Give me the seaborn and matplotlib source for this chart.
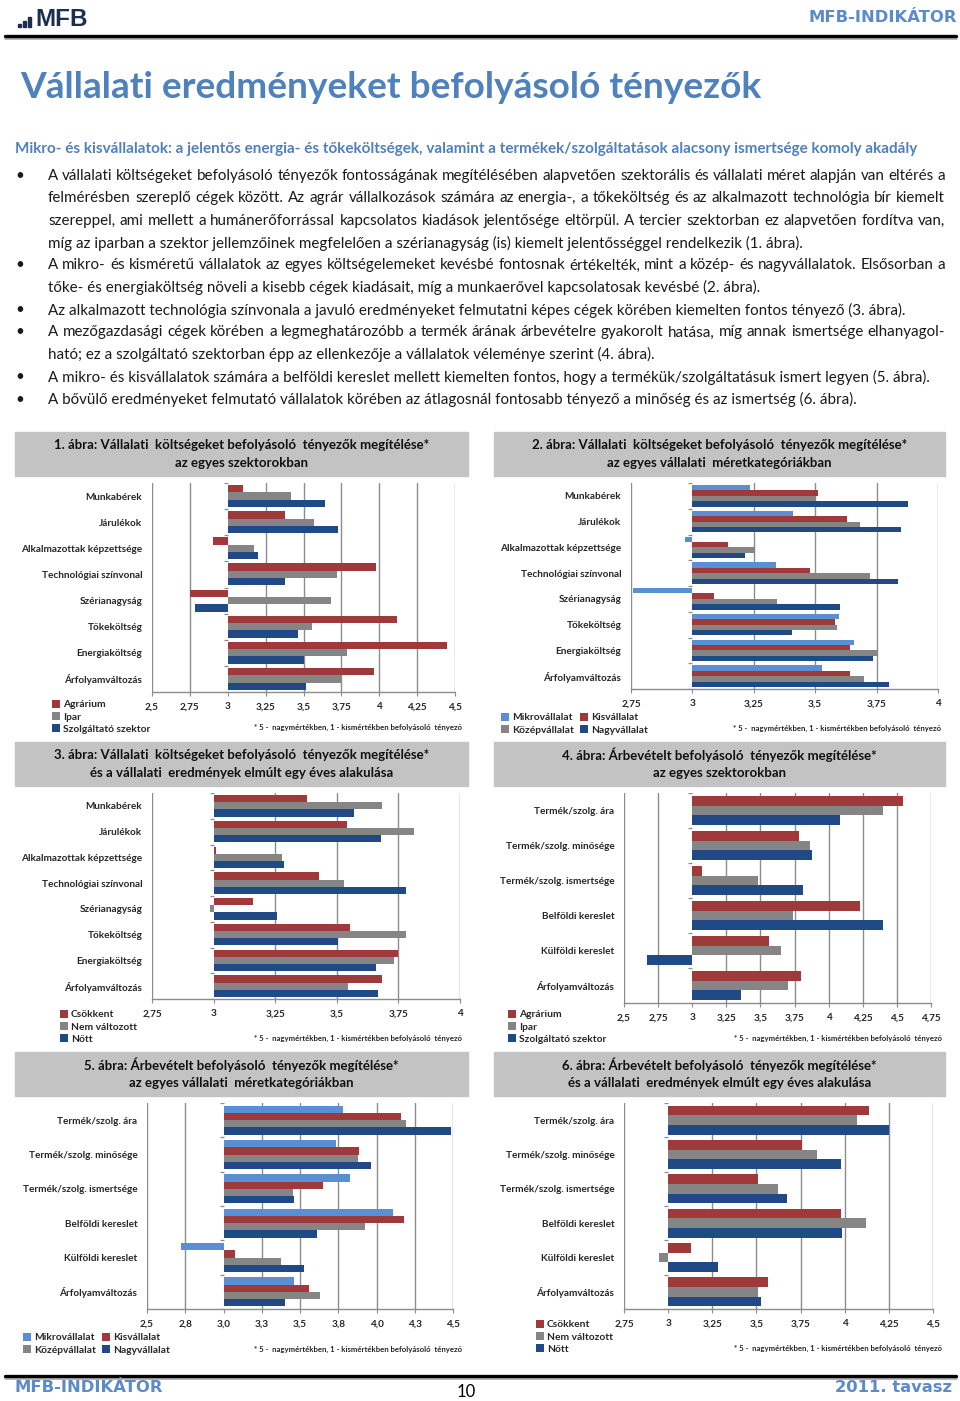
import numpy as np
import pandas as pd
import matplotlib
matplotlib.use("Agg")
import matplotlib.pyplot as plt
import seaborn as sns
from matplotlib.patches import Rectangle, Patch
from matplotlib.lines import Line2D

# Page size in pixels
W, H = 960, 1401

# --- Data --------------------------------------------------------------
cost_factors = ["Munkabérek", "Járulékok", "Alkalmazottak képzettsége", "Technológiai színvonal",
                "Szérianagyság", "Tőkeköltség", "Energiaköltség", "Árfolyamváltozás"]
revenue_factors = ["Termék/szolg. ára", "Termék/szolg. minősége", "Termék/szolg. ismertsége",
                   "Belföldi kereslet", "Külföldi kereslet", "Árfolyamváltozás"]

sectors = ["Agrárium", "Ipar", "Szolgáltató szektor"]
sizes = ["Mikrovállalat", "Kisvállalat", "Középvállalat", "Nagyvállalat"]
results = ["Csökkent", "Nem változott", "Nőtt"]

# 1. ábra
agr1 = [3.10, 3.38, 2.90, 3.98, 2.75, 4.12, 4.45, 3.965]
ipar1 = [3.42, 3.57, 3.17, 3.72, 3.68, 3.555, 3.79, 3.75]
szolg1 = [3.64, 3.73, 3.20, 3.375, 2.785, 3.465, 3.50, 3.515]
# 2. ábra
mikro2 = [3.234, 3.41, 2.97, 3.34, 2.76, 3.595, 3.656, 3.528]
kis2 = [3.512, 3.629, 3.145, 3.48, 3.087, 3.579, 3.64, 3.642]
kozep2 = [3.505, 3.684, 3.253, 3.722, 3.345, 3.587, 3.757, 3.70]
nagy2 = [3.877, 3.851, 3.214, 3.837, 3.60, 3.404, 3.736, 3.80]
# 3. ábra
csokk3 = [3.379, 3.54, 3.01, 3.426, 3.16, 3.553, 3.747, 3.682]
nemv3 = [3.685, 3.813, 3.276, 3.529, 2.986, 3.782, 3.731, 3.547]
nott3 = [3.571, 3.679, 3.287, 3.779, 3.257, 3.506, 3.659, 3.668]
# 4. ábra
agr4 = [4.547, 3.78, 3.074, 4.228, 3.566, 3.797]
ipar4 = [4.397, 3.86, 3.483, 3.738, 3.65, 3.70]
szolg4 = [4.086, 3.877, 3.814, 4.397, 2.67, 3.358]
# 5. ábra
mikro5 = [3.78, 3.735, 3.824, 4.111, 2.722, 3.463]
kis5 = [4.159, 3.887, 3.648, 4.18, 3.074, 3.557]
kozep5 = [4.19, 3.876, 3.452, 3.928, 3.376, 3.633]
nagy5 = [4.485, 3.967, 3.459, 3.611, 3.526, 3.402]
# 6. ábra
csokk6 = [4.136, 3.757, 3.508, 3.977, 3.13, 3.563]
nemv6 = [4.07, 3.842, 3.621, 4.122, 2.951, 3.508]
nott6 = [4.249, 3.977, 3.672, 3.987, 3.282, 3.525]

ticks_a = ["2,5", "2,75", "3", "3,25", "3,5", "3,75", "4", "4,25", "4,5"]
ticks_b = ["2,75", "3", "3,25", "3,5", "3,75", "4"]
ticks_c = ["2,5", "2,75", "3", "3,25", "3,5", "3,75", "4", "4,25", "4,5", "4,75"]
ticks_d = ["2,5", "2,8", "3,0", "3,3", "3,5", "3,8", "4,0", "4,3", "4,5"]
ticks_e = ["2,75", "3", "3,25", "3,5", "3,75", "4", "4,25", "4,5"]

titles = [
    ("1. ábra: Vállalati  költségeket befolyásoló  tényezők megítélése*", "az egyes szektorokban"),
    ("2. ábra: Vállalati  költségeket befolyásoló  tényezők megítélése*", "az egyes vállalati  méretkategóriákban"),
    ("3. ábra: Vállalati  költségeket befolyásoló  tényezők megítélése*", "és a vállalati  eredmények elmúlt egy éves alakulása"),
    ("4. ábra: Árbevételt befolyásoló  tényezők megítélése*", "az egyes szektorokban"),
    ("5. ábra: Árbevételt befolyásoló  tényezők megítélése*", "az egyes vállalati  méretkategóriákban"),
    ("6. ábra: Árbevételt befolyásoló  tényezők megítélése*", "és a vállalati  eredmények elmúlt egy éves alakulása"),
]
NOTE = "* 5 -  nagymértékben, 1 - kismértékben befolyásoló  tényező"

heading = "Vállalati eredményeket befolyásoló tényezők"
subheading = ("Mikro- és kisvállalatok: a jelentős energia- és tőkeköltségek, valamint a "
              "termékek/szolgáltatások alacsony ismertsége komoly akadály")
# (text, justified?) per line, grouped by bullet
bullets = [
    [("A vállalati költségeket befolyásoló tényezők fontosságának megítélésében alapvetően szektorális és vállalati méret alapján van eltérés a", True),
     ("felmérésben szereplő cégek között. Az agrár vállalkozások számára az energia-, a tőkeköltség és az alkalmazott technológia bír kiemelt", True),
     ("szereppel, ami mellett a humánerőforrással kapcsolatos kiadások jelentősége eltörpül. A tercier szektorban ez alapvetően fordítva van,", True),
     ("míg az iparban a szektor jellemzőinek megfelelően a szérianagyság (is) kiemelt jelentősséggel rendelkezik (1. ábra).", False)],
    [("A mikro- és kisméretű vállalatok az egyes költségelemeket kevésbé fontosnak értékelték, mint a közép- és nagyvállalatok. Elsősorban a", True),
     ("tőke- és energiaköltség növeli a kisebb cégek kiadásait, míg a munkaerővel kapcsolatosak kevésbé (2. ábra).", False)],
    [("Az alkalmazott technológia színvonala a javuló eredményeket felmutatni képes cégek körében kiemelten fontos tényező (3. ábra).", False)],
    [("A mezőgazdasági cégek körében a legmeghatározóbb a termék árának árbevételre gyakorolt hatása, míg annak ismertsége elhanyagol-", True),
     ("ható; ez a szolgáltató szektorban épp az ellenkezője a vállalatok véleménye szerint (4. ábra).", False)],
    [("A mikro- és kisvállalatok számára a belföldi kereslet mellett kiemelten fontos, hogy a termékük/szolgáltatásuk ismert legyen (5. ábra).", False)],
    [("A bővülő eredményeket felmutató vállalatok körében az átlagosnál fontosabb tényező a minőség és az ismertség (6. ábra).", False)],
]

# --- Style ------------------------------------------------------------
RED, GRAY, NAVY, LBLUE = "#a0393a", "#858585", "#1f4a85", "#5a8fd3"
BLUE_TXT = "#4f81bd"
HEAD_BLUE = "#5b8bc9"
GRID = "#8c8c8c"

sns.set_theme(style="white")
plt.rcParams["font.family"] = ["Lato", "DejaVu Sans"]

fig = plt.figure(figsize=(W / 100, H / 100), dpi=100)
renderer = fig.canvas.get_renderer()


def fx(x):
    return x / W


def fy(y):
    return 1 - y / H


def text_width(s, **kw):
    t = fig.text(0, 0, s, **kw)
    w = t.get_window_extent(renderer).width
    t.remove()
    return w


def put_line(s, x0, y, x1=None, **kw):
    if x1 is None:
        fig.text(fx(x0), fy(y), s, ha="left", va="center", **kw)
        return
    words = s.split(" ")
    widths = [text_width(w, **kw) for w in words]
    gap = (x1 - x0 - sum(widths)) / (len(words) - 1)
    x = x0
    for w, wd in zip(words, widths):
        fig.text(fx(x), fy(y), w, ha="left", va="center", **kw)
        x += wd + gap


# --- Header / footer ------------------------------------------------------
for xb, hb in [(18, 3), (23, 6), (28, 10)]:
    fig.patches.append(Rectangle((fx(xb), fy(27)), 3 / W, hb / H, transform=fig.transFigure,
                                 color="#1b2f4e"))
fig.text(fx(35), fy(19), "MFB", family="Liberation Sans", weight="bold", fontsize=17.5,
         color="#1b2f4e", ha="left", va="center")
fig.text(fx(957), fy(17), "MFB-INDIKÁTOR", family="DejaVu Sans", weight="bold", fontsize=11.8,
         color=HEAD_BLUE, ha="right", va="center")
fig.lines.append(Line2D([fx(5), fx(956)], [fy(38), fy(38)], transform=fig.transFigure,
                        color="#b0b0b0", lw=2))
fig.lines.append(Line2D([fx(5), fx(956)], [fy(35.5), fy(35.5)], transform=fig.transFigure,
                        color="black", lw=2.4))

fig.lines.append(Line2D([fx(5), fx(956)], [fy(1378), fy(1378)], transform=fig.transFigure,
                        color="#b0b0b0", lw=2))
fig.lines.append(Line2D([fx(5), fx(956)], [fy(1375.5), fy(1375.5)], transform=fig.transFigure,
                        color="black", lw=2.4))
fig.text(fx(15), fy(1388), "MFB-INDIKÁTOR", family="DejaVu Sans", weight="bold", fontsize=11.8,
         color=HEAD_BLUE, ha="left", va="center")
fig.text(fx(952), fy(1388), "2011. tavasz", family="DejaVu Sans", weight="bold", fontsize=11.8,
         color=HEAD_BLUE, ha="right", va="center")
fig.text(fx(466), fy(1392), "10", fontsize=12, color="black", ha="center", va="center")

# --- Heading and body text ---------------------------------------------
head_fs = 23.0 * 742 / text_width(heading, fontsize=23.0, weight="bold")
fig.text(fx(20), fy(87), heading, weight="bold", fontsize=head_fs, color=BLUE_TXT,
         ha="left", va="center")
sub_fs = 9.0 * 903 / text_width(subheading, fontsize=9.0, weight="bold")
fig.text(fx(15), fy(149), subheading, weight="bold", fontsize=sub_fs, color=BLUE_TXT,
         ha="left", va="center")

body_fs = 10.0 * 881 / text_width(bullets[4][0][0], fontsize=10.0)
body_kw = dict(fontsize=body_fs, color="#1a1a1a")
y = 176
for para in bullets:
    fig.text(fx(20), fy(y), "•", ha="center", va="center", **body_kw)
    for s, just in para:
        put_line(s, 48, y, 945 if just else None, **body_kw)
        y += 22.35

# --- Charts ----------------------------------------------------------------
panels = [
    dict(factors=cost_factors, groups=sectors, series=[agr1, ipar1, szolg1], colors=[RED, GRAY, NAVY],
         box=(15, 432, 453, 44), ax=(152, 455, 483, 692), lim=(2.5, 4.5), ticks=ticks_a,
         leg=(52, 700), ncol=1, note=(462, 727)),
    dict(factors=cost_factors, groups=sizes, series=[mikro2, kis2, kozep2, nagy2],
         colors=[LBLUE, RED, GRAY, NAVY],
         box=(494, 432, 451, 44), ax=(631, 938, 483, 689), lim=(2.75, 4.0), ticks=ticks_b,
         leg=(501, 713), ncol=2, note=(941, 728)),
    dict(factors=cost_factors, groups=results, series=[csokk3, nemv3, nott3], colors=[RED, GRAY, NAVY],
         box=(15, 742, 453, 44), ax=(152, 460, 793, 999), lim=(2.75, 4.0), ticks=ticks_b,
         leg=(60, 1010), ncol=1, note=(462, 1038)),
    dict(factors=revenue_factors, groups=sectors, series=[agr4, ipar4, szolg4], colors=[RED, GRAY, NAVY],
         box=(494, 742, 451, 44), ax=(624, 931, 793, 1003), lim=(2.5, 4.75), ticks=ticks_c,
         leg=(508, 1010), ncol=1, note=(942, 1038)),
    dict(factors=revenue_factors, groups=sizes, series=[mikro5, kis5, kozep5, nagy5],
         colors=[LBLUE, RED, GRAY, NAVY],
         box=(15, 1052, 453, 44), ax=(147, 453, 1103, 1309), lim=(2.5, 4.5), ticks=ticks_d,
         leg=(23, 1333), ncol=2, note=(462, 1349)),
    dict(factors=revenue_factors, groups=results, series=[csokk6, nemv6, nott6], colors=[RED, GRAY, NAVY],
         box=(494, 1052, 451, 44), ax=(624, 933, 1103, 1309), lim=(2.75, 4.5), ticks=ticks_e,
         leg=(536, 1320), ncol=1, note=(942, 1348)),
]

BASE = 3.0  # value axis crosses the category axis at 3

for p, (t1, t2) in zip(panels, titles):
    bx, by, bw, bh = p["box"]
    fig.patches.append(Rectangle((fx(bx), fy(by + bh)), bw / W, bh / H, transform=fig.transFigure,
                                 color="#c3c3c3", zorder=0))
    cx = bx + bw / 2
    fig.text(fx(cx), fy(by + 13), t1, fontsize=9.5, weight="bold", color="#111111",
             ha="center", va="center")
    fig.text(fx(cx), fy(by + 31), t2, fontsize=9.5, weight="bold", color="#111111",
             ha="center", va="center")

    x0, x1, y0, y1 = p["ax"]
    ax = fig.add_axes([fx(x0), fy(y1), (x1 - x0) / W, (y1 - y0) / H])

    rows = []
    for g, vals in zip(p["groups"], p["series"]):
        for f, v in zip(p["factors"], vals):
            rows.append({"factor": f, "group": g, "offset": v - BASE})
    df = pd.DataFrame(rows)

    sns.barplot(data=df, y="factor", x="offset", hue="group", order=p["factors"],
                hue_order=p["groups"], palette=p["colors"], width=0.84, saturation=1,
                linewidth=0, legend=False, ax=ax)

    lo, hi = p["lim"]
    n = len(p["factors"])
    tick_pos = np.arange(lo, hi + 0.001, 0.25) - BASE
    ax.set_xlim(lo - BASE, hi - BASE)
    ax.set_ylim(n - 0.5, -0.5)
    ax.set_xticks(tick_pos)
    ax.set_xticklabels(p["ticks"])
    ax.set_xlabel("")
    ax.set_ylabel("")
    ax.set_axisbelow(True)
    ax.grid(axis="x", color=GRID, lw=1.0)
    ax.grid(axis="y", visible=False)
    for gl, tp in zip(ax.get_xgridlines(), tick_pos):
        if abs(tp) < 1e-9:
            gl.set_visible(False)
    for side in ["top", "left", "right"]:
        ax.spines[side].set_visible(False)
    ax.spines["bottom"].set_color(GRID)
    ax.spines["bottom"].set_linewidth(1.0)
    ax.tick_params(axis="x", direction="out", length=3, width=0.8, color=GRID, pad=4.5,
                   labelsize=7.2, bottom=True)
    ax.tick_params(axis="y", length=0, pad=7, labelsize=7.2)
    for lab in ax.get_xticklabels() + ax.get_yticklabels():
        lab.set_fontweight("bold")

    # small tick marks of the category axis standing at 3
    tl = 4 * (hi - lo) / (x1 - x0)
    ax.hlines(np.arange(n + 1) - 0.5, -tl, 0, color=GRID, lw=0.9, zorder=3)

    handles = [Patch(facecolor=c, edgecolor="none") for c in p["colors"]]
    labels = list(p["groups"])
    if p["ncol"] == 2:
        handles = [handles[0], handles[2], handles[1], handles[3]]
        labels = [labels[0], labels[2], labels[1], labels[3]]
    lx, ly = p["leg"]
    fig.legend(handles, labels, loc="upper left", bbox_to_anchor=(fx(lx), fy(ly)),
               ncol=p["ncol"], frameon=False, prop={"weight": "bold", "size": 7.4},
               handlelength=0.75, handleheight=0.75, handletextpad=0.3, labelspacing=0.28,
               columnspacing=0.6, borderpad=0, borderaxespad=0)

    nx, ny = p["note"]
    fig.text(fx(nx), fy(ny), NOTE, fontsize=5.6, weight="bold", ha="right", va="center")

fig.savefig("out.png", dpi=100)
